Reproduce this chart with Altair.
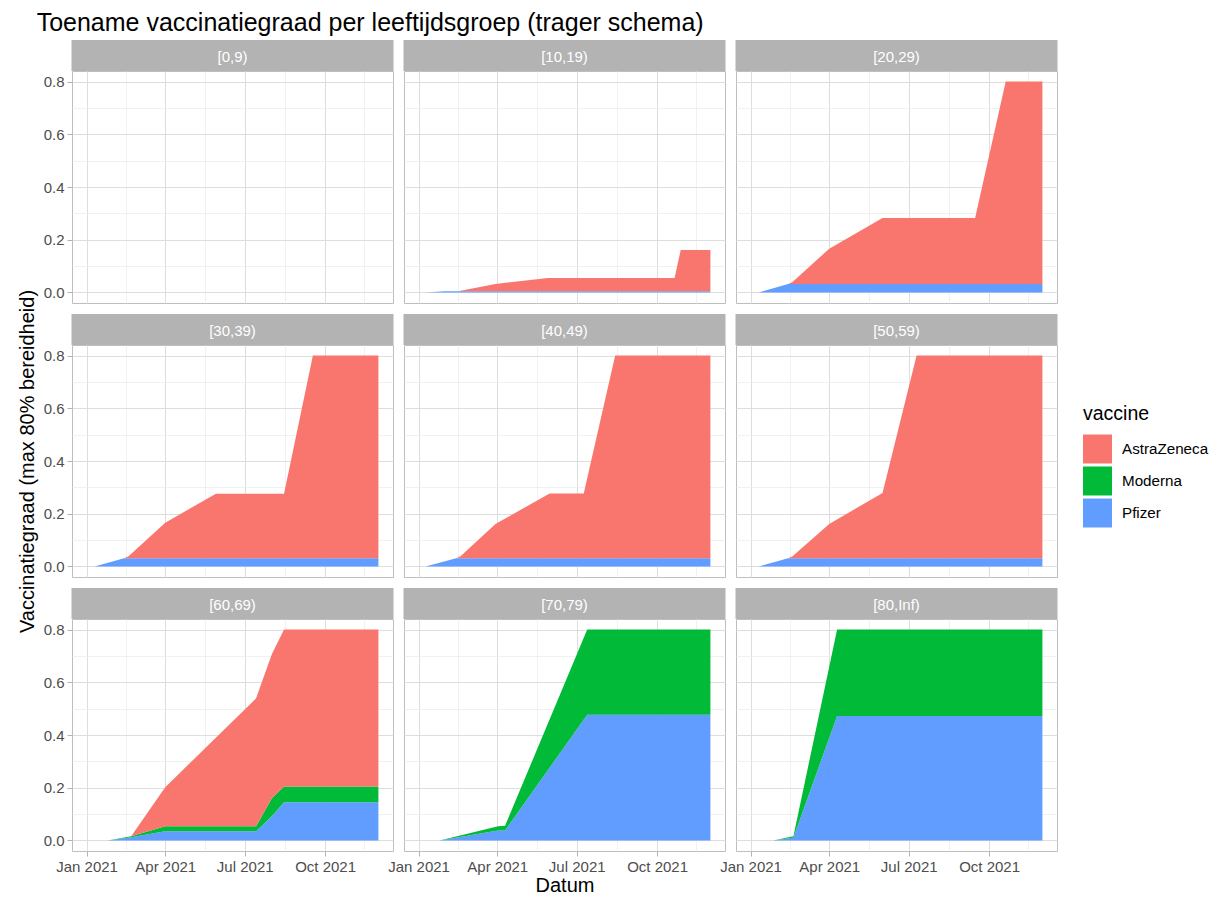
import altair as alt
import pandas as pd

FONT = "Liberation Sans"

TITLE = "Toename vaccinatiegraad per leeftijdsgroep (trager schema)"
X_TITLE = "Datum"
Y_TITLE = "Vaccinatiegraad (max 80% bereidheid)"
LEGEND_TITLE = "vaccine"

GROUPS = ["[0,9)", "[10,19)", "[20,29)", "[30,39)", "[40,49)", "[50,59)",
          "[60,69)", "[70,79)", "[80,Inf)"]
VACCINES = ["AstraZeneca", "Moderna", "Pfizer"]
VACCINE_COLORS = ["#F8766D", "#00BA38", "#619CFF"]
STACK_ORDER = {"Pfizer": 0, "Moderna": 1, "AstraZeneca": 2}

# ---- per age group: dates and cumulative uptake per vaccine ----
dates_0_9 = ["2021-01-01", "2021-12-01"]
pfizer_0_9 = [0.0, 0.0]
moderna_0_9 = [0.0, 0.0]
astra_0_9 = [0.0, 0.0]

dates_10_19 = ["2021-01-09", "2021-01-31", "2021-02-15", "2021-03-30",
               "2021-05-29", "2021-10-21", "2021-10-28", "2021-12-01"]
pfizer_10_19 = [0.0, 0.005, 0.005, 0.005, 0.005, 0.005, 0.005, 0.005]
moderna_10_19 = [0.0, 0.0, 0.0, 0.0, 0.0, 0.0, 0.0, 0.0]
astra_10_19 = [0.0, 0.0, 0.0, 0.027, 0.05, 0.05, 0.156, 0.156]

dates_20_29 = ["2021-01-10", "2021-02-13", "2021-02-18", "2021-04-01",
               "2021-06-01", "2021-09-15", "2021-10-20", "2021-12-01"]
pfizer_20_29 = [0.0, 0.032, 0.032, 0.032, 0.032, 0.032, 0.032, 0.032]
moderna_20_29 = [0.0, 0.0, 0.0, 0.0, 0.0, 0.0, 0.0, 0.0]
astra_20_29 = [0.0, 0.0, 0.008, 0.134, 0.25, 0.25, 0.768, 0.768]

dates_30_39 = ["2021-01-10", "2021-02-13", "2021-02-18", "2021-04-01",
               "2021-05-29", "2021-08-15", "2021-09-17", "2021-12-01"]
pfizer_30_39 = [0.0, 0.031, 0.031, 0.031, 0.031, 0.031, 0.031, 0.031]
moderna_30_39 = [0.0, 0.0, 0.0, 0.0, 0.0, 0.0, 0.0, 0.0]
astra_30_39 = [0.0, 0.0, 0.008, 0.135, 0.245, 0.245, 0.769, 0.769]

dates_40_49 = ["2021-01-09", "2021-02-13", "2021-02-18", "2021-03-30",
               "2021-05-31", "2021-07-09", "2021-08-14", "2021-12-01"]
pfizer_40_49 = [0.0, 0.031, 0.031, 0.031, 0.031, 0.031, 0.031, 0.031]
moderna_40_49 = [0.0, 0.0, 0.0, 0.0, 0.0, 0.0, 0.0, 0.0]
astra_40_49 = [0.0, 0.0, 0.008, 0.13, 0.246, 0.246, 0.769, 0.769]

dates_50_59 = ["2021-01-10", "2021-02-13", "2021-02-18", "2021-04-01",
               "2021-06-01", "2021-07-10", "2021-12-01"]
pfizer_50_59 = [0.0, 0.031, 0.031, 0.031, 0.031, 0.031, 0.031]
moderna_50_59 = [0.0, 0.0, 0.0, 0.0, 0.0, 0.0, 0.0]
astra_50_59 = [0.0, 0.0, 0.008, 0.13, 0.248, 0.769, 0.769]

dates_60_69 = ["2021-01-25", "2021-02-21", "2021-04-01", "2021-07-14",
               "2021-08-01", "2021-08-15", "2021-12-01"]
pfizer_60_69 = [0.0, 0.012, 0.035, 0.035, 0.092, 0.145, 0.145]
moderna_60_69 = [0.0, 0.004, 0.019, 0.019, 0.068, 0.06, 0.06]
astra_60_69 = [0.0, 0.0, 0.148, 0.485, 0.546, 0.595, 0.595]

dates_70_79 = ["2021-01-25", "2021-04-02", "2021-04-10", "2021-07-13", "2021-12-01"]
pfizer_70_79 = [0.0, 0.038, 0.038, 0.477, 0.477]
moderna_70_79 = [0.0, 0.016, 0.018, 0.323, 0.323]
astra_70_79 = [0.0, 0.0, 0.0, 0.0, 0.0]

dates_80_inf = ["2021-01-27", "2021-02-19", "2021-04-10", "2021-12-01"]
pfizer_80_inf = [0.0, 0.01, 0.472, 0.472]
moderna_80_inf = [0.0, 0.006, 0.328, 0.328]
astra_80_inf = [0.0, 0.0, 0.0, 0.0]

PANEL_DATA = {
    "[0,9)": (dates_0_9, pfizer_0_9, moderna_0_9, astra_0_9),
    "[10,19)": (dates_10_19, pfizer_10_19, moderna_10_19, astra_10_19),
    "[20,29)": (dates_20_29, pfizer_20_29, moderna_20_29, astra_20_29),
    "[30,39)": (dates_30_39, pfizer_30_39, moderna_30_39, astra_30_39),
    "[40,49)": (dates_40_49, pfizer_40_49, moderna_40_49, astra_40_49),
    "[50,59)": (dates_50_59, pfizer_50_59, moderna_50_59, astra_50_59),
    "[60,69)": (dates_60_69, pfizer_60_69, moderna_60_69, astra_60_69),
    "[70,79)": (dates_70_79, pfizer_70_79, moderna_70_79, astra_70_79),
    "[80,Inf)": (dates_80_inf, pfizer_80_inf, moderna_80_inf, astra_80_inf),
}

rows = []
for g, (ds, pf, mo, az) in PANEL_DATA.items():
    for i, d in enumerate(ds):
        for vac, vals in (("Pfizer", pf), ("Moderna", mo), ("AstraZeneca", az)):
            rows.append({"group": g, "date": d, "vaccine": vac,
                         "value": vals[i], "stack_order": STACK_ORDER[vac]})
df = pd.DataFrame(rows)

# ---- layout constants ----
W = 321
H = 232
SH = 31
GAP = 11
GRID_COL = "#DEDEDE"
MINOR_COL = "#EBEBEB"
STRIP_COL = "#B3B3B3"

x_values = [alt.DateTime(year=2021, month=m, date=d, utc=True)
            for (m, d) in [(1, 1), (2, 15), (4, 1), (5, 16), (7, 1), (8, 16), (10, 1), (11, 15)]]
y_values = [0.0, 0.1, 0.2, 0.3, 0.4, 0.5, 0.6, 0.7, 0.8]
x_domain = [alt.DateTime(year=2020, month=12, date=15, hours=7, utc=True),
            alt.DateTime(year=2021, month=12, date=17, hours=17, utc=True)]

X_MAJOR = "utcmonth(datum.value) % 3 == 0"
Y_MAJOR = "round(datum.value * 10) % 2 == 0"


def panel(g, r, c):
    x_axis = alt.Axis(
        values=x_values,
        grid=True,
        gridColor={"condition": {"test": X_MAJOR, "value": GRID_COL}, "value": MINOR_COL},
        gridWidth={"condition": {"test": X_MAJOR, "value": 1.0}, "value": 0.7},
        labels=(r == 2),
        labelExpr=f"{X_MAJOR} ? utcFormat(datum.value, '%b %Y') : ''",
        labelFlush=False,
        labelOverlap=False,
        ticks=(r == 2),
        tickOpacity={"condition": {"test": X_MAJOR, "value": 1}, "value": 0},
        title=(X_TITLE if (r == 2 and c == 1) else None),
    )
    y_axis = alt.Axis(
        values=y_values,
        grid=True,
        gridColor={"condition": {"test": Y_MAJOR, "value": GRID_COL}, "value": MINOR_COL},
        gridWidth={"condition": {"test": Y_MAJOR, "value": 1.0}, "value": 0.7},
        labels=(c == 0),
        labelExpr=f"{Y_MAJOR} ? format(datum.value, '.1f') : ''",
        labelOverlap=False,
        ticks=(c == 0),
        tickOpacity={"condition": {"test": Y_MAJOR, "value": 1}, "value": 0},
        title=(Y_TITLE if (c == 0 and r == 1) else None),
    )
    area = alt.Chart(df).transform_filter(
        alt.datum.group == g
    ).mark_area(opacity=1, interpolate="linear").encode(
        x=alt.X("date:T", axis=x_axis,
                scale=alt.Scale(type="utc", domain=x_domain, nice=False)),
        y=alt.Y("value:Q", axis=y_axis, stack="zero",
                scale=alt.Scale(domain=[-0.04, 0.84], nice=False, zero=False)),
        color=alt.Color("vaccine:N",
                        scale=alt.Scale(domain=VACCINES, range=VACCINE_COLORS),
                        legend=alt.Legend(title=LEGEND_TITLE, orient="none",
                                          legendX=1011, legendY=334)),
        order=alt.Order("stack_order:Q", sort="ascending"),
    )
    label_df = pd.DataFrame({"label": [g]})
    strip_bg = alt.Chart(label_df).mark_rect(color=STRIP_COL).encode(
        x=alt.value(-0.5), x2=alt.value(W + 0.5),
        y=alt.value(-SH), y2=alt.value(0),
    )
    strip_txt = alt.Chart(label_df).mark_text(
        font=FONT, fontSize=15, color="white", baseline="middle"
    ).encode(
        text="label:N", x=alt.value(W / 2), y=alt.value(-SH / 2 + 1),
    )
    return alt.layer(area, strip_bg, strip_txt).properties(width=W, height=H)


panels = []
for r in range(3):
    for c in range(3):
        panels.append(panel(GROUPS[r * 3 + c], r, c))

chart = alt.concat(
    *panels, columns=3, bounds="flush",
    spacing={"row": GAP + SH, "column": GAP},
).properties(
    title=alt.TitleParams(TITLE, anchor="start", fontSize=25, font=FONT,
                          fontWeight="normal", color="black", offset=4, dx=20),
    padding={"left": 8, "top": 2, "right": 0, "bottom": 0},
).configure_view(
    stroke="#BEBEBE", strokeWidth=1
).configure_axis(
    labelFont=FONT, labelFontSize=15, labelColor="#4D4D4D",
    titleFont=FONT, titleFontSize=20, titleFontWeight="normal",
    domain=False, tickColor="#B3B3B3", tickSize=5, labelPadding=3,
    titlePadding=6,
).configure_axisX(
    titlePadding=1
).configure_legend(
    labelFont=FONT, labelFontSize=15.2, labelColor="black",
    titleFont=FONT, titleFontSize=19.5, titleFontWeight="normal", titleColor="black",
    symbolType="square", symbolSize=841, symbolStrokeWidth=0, symbolOpacity=1,
    rowPadding=3, labelOffset=10, titlePadding=10,
)

chart.save("out.html", embed_options={"renderer": "svg", "actions": False})
